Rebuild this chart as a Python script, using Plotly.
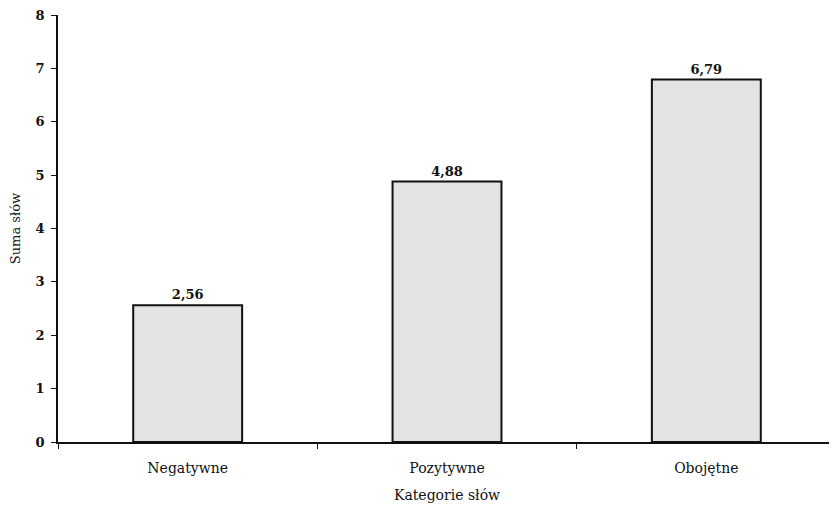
import plotly.graph_objects as go

categories = ["Negatywne", "Pozytywne", "Obojętne"]
values = [2.56, 4.88, 6.79]
y_ticks = [0, 1, 2, 3, 4, 5, 6, 7, 8]

labels = [f"{v:.2f}".replace(".", ",") for v in values]

font_family = "DejaVu Serif, Liberation Serif, serif"

fig = go.Figure(
    go.Bar(
        x=categories,
        y=values,
        width=0.42,
        marker=dict(color="#e3e3e3", line=dict(color="#111111", width=2)),
        text=labels,
        textposition="outside",
        textfont=dict(family=font_family, size=13, color="#111111", weight="bold"),
        cliponaxis=False,
    )
)

# the page places the figure 8px from the top-left corner, margins compensate
fig.update_layout(
    width=837,
    height=509,
    margin=dict(l=50, r=9, t=7, b=75, autoexpand=False),
    paper_bgcolor="white",
    plot_bgcolor="white",
    showlegend=False,
    font=dict(family=font_family, size=13, color="#111111"),
)

fig.update_xaxes(
    automargin=False,
    showline=True,
    linecolor="#111111",
    linewidth=1.5,
    ticks="outside",
    tickson="boundaries",
    ticklen=5,
    tickcolor="#111111",
    showgrid=False,
    ticklabelstandoff=12,
    tickfont=dict(family=font_family, size=14, color="#111111"),
    title=dict(text="Kategorie słów", font=dict(family=font_family, size=14), standoff=16),
)

fig.update_yaxes(
    automargin=False,
    range=[0, 8],
    tickvals=y_ticks,
    showline=True,
    linecolor="#111111",
    linewidth=1.5,
    ticks="outside",
    ticklen=5,
    tickcolor="#111111",
    showgrid=False,
    zeroline=False,
    ticklabelstandoff=4,
    ticklabeloverflow="allow",
    tickfont=dict(family=font_family, size=13, color="#111111", weight="bold"),
    title=dict(text="Suma słów", font=dict(family=font_family, size=13), standoff=22),
)

fig.write_html("out.html")
